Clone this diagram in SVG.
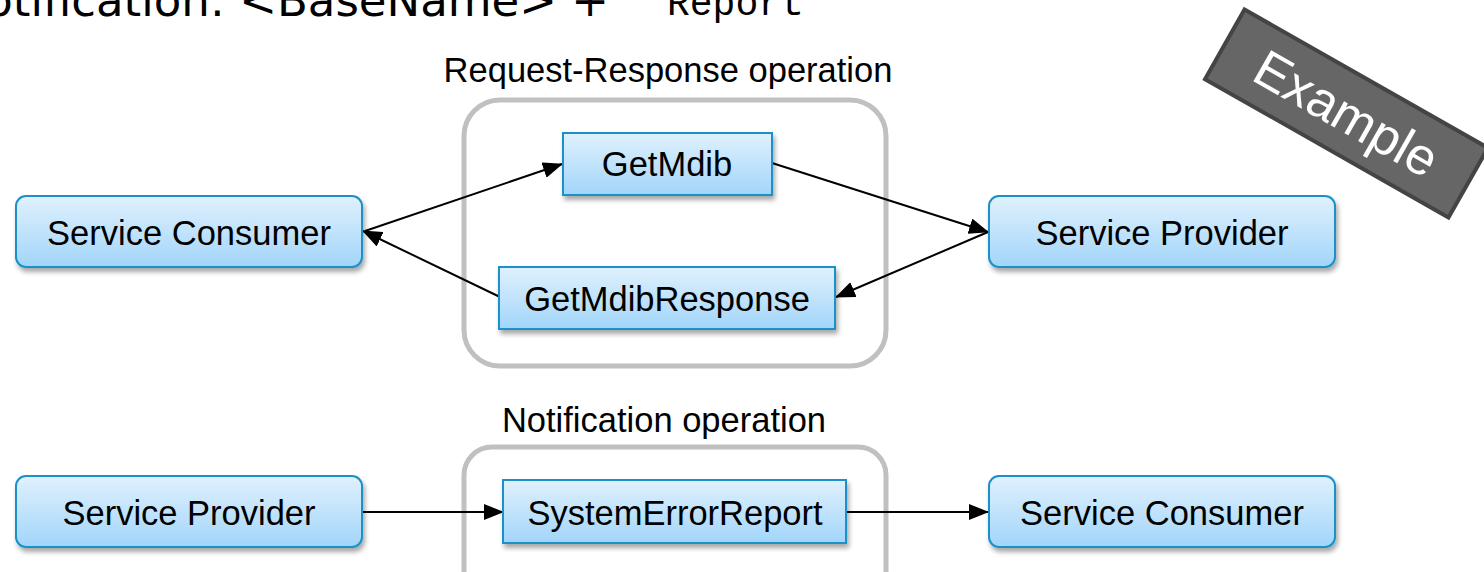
<svg xmlns="http://www.w3.org/2000/svg" width="1484" height="572" viewBox="0 0 1484 572">
  <style>
    .node { fill: url(#nodeFill); stroke: #1a90c8; stroke-width: 2; filter: url(#shadow); }
    .label { font-family: "Liberation Sans", Arial, sans-serif; font-size: 34.5px; fill: #000; text-anchor: middle; }
    .group { fill: none; stroke: #c0c0c0; stroke-width: 5; }
    .wire { fill: none; stroke: #000; stroke-width: 2; marker-end: url(#arrow); }
  </style>
  <defs>
    <linearGradient id="nodeFill" x1="0" y1="0" x2="0" y2="1">
      <stop offset="0" stop-color="#e0f1fd"/>
      <stop offset="1" stop-color="#a2d5fa"/>
    </linearGradient>
    <filter id="shadow" x="-10%" y="-20%" width="120%" height="150%">
      <feGaussianBlur in="SourceAlpha" stdDeviation="2.5"/>
      <feOffset dx="2" dy="4" result="b"/>
      <feComponentTransfer><feFuncA type="linear" slope="0.35"/></feComponentTransfer>
      <feMerge><feMergeNode/><feMergeNode in="SourceGraphic"/></feMerge>
    </filter>
    <marker id="arrow" viewBox="0 0 20 16" refX="19" refY="8" markerWidth="20" markerHeight="16" markerUnits="userSpaceOnUse" orient="auto">
      <path d="M0,0 L20,8 L0,16 Z" fill="#000"/>
    </marker>
  </defs>

  <rect width="1484" height="572" fill="#fff"/>

  <!-- heading line -->
  <text x="609" y="16" font-family="DejaVu Sans, Verdana, sans-serif" font-size="45" text-anchor="end" fill="#000">Notification: &lt;BaseName&gt; +</text>
  <text x="667" y="15" font-family="Liberation Mono, Courier New, monospace" font-size="38" fill="#000">Report</text>

  <!-- operation frames -->
  <g id="request-response-frame">
    <rect class="group" x="464" y="100" width="422" height="266" rx="36"/>
    <text class="label" x="668" y="82">Request-Response operation</text>
  </g>
  <g id="notification-frame">
    <rect class="group" x="464" y="447" width="422" height="170" rx="28"/>
    <text class="label" x="664" y="432">Notification operation</text>
  </g>

  <!-- connectors -->
  <g id="connectors">
    <line class="wire" x1="365" y1="231" x2="562" y2="164"/>
    <line class="wire" x1="500" y1="297" x2="363" y2="231"/>
    <line class="wire" x1="772" y1="163" x2="988" y2="232"/>
    <line class="wire" x1="988" y1="232" x2="836" y2="297"/>
    <line class="wire" x1="362" y1="512" x2="503" y2="512"/>
    <line class="wire" x1="847" y1="512" x2="988" y2="512"/>
  </g>

  <!-- nodes -->
  <g id="service-consumer-top">
    <rect class="node" x="16" y="196" width="346" height="71" rx="10"/>
    <text class="label" x="189" y="245">Service Consumer</text>
  </g>
  <g id="service-provider-top">
    <rect class="node" x="989" y="196" width="346" height="71" rx="10"/>
    <text class="label" x="1162" y="245">Service Provider</text>
  </g>
  <g id="get-mdib">
    <rect class="node" x="563" y="133" width="209" height="62"/>
    <text class="label" x="667" y="176">GetMdib</text>
  </g>
  <g id="get-mdib-response">
    <rect class="node" x="499" y="267" width="336" height="62"/>
    <text class="label" x="667" y="311">GetMdibResponse</text>
  </g>
  <g id="service-provider-bottom">
    <rect class="node" x="16" y="476" width="346" height="71" rx="10"/>
    <text class="label" x="189" y="525">Service Provider</text>
  </g>
  <g id="system-error-report">
    <rect class="node" x="503" y="480" width="343" height="63"/>
    <text class="label" x="675" y="525">SystemErrorReport</text>
  </g>
  <g id="service-consumer-bottom">
    <rect class="node" x="989" y="476" width="346" height="71" rx="10"/>
    <text class="label" x="1162" y="525">Service Consumer</text>
  </g>

  <!-- example badge -->
  <g id="example-badge" transform="translate(1346.5,113.5) rotate(29.6)">
    <rect x="-140" y="-40" width="280" height="80" fill="#666" stroke="#444" stroke-width="4"/>
    <text x="0" y="18" font-family="Liberation Sans, Arial, sans-serif" font-size="52" fill="#fff" text-anchor="middle">Example</text>
  </g>
</svg>
